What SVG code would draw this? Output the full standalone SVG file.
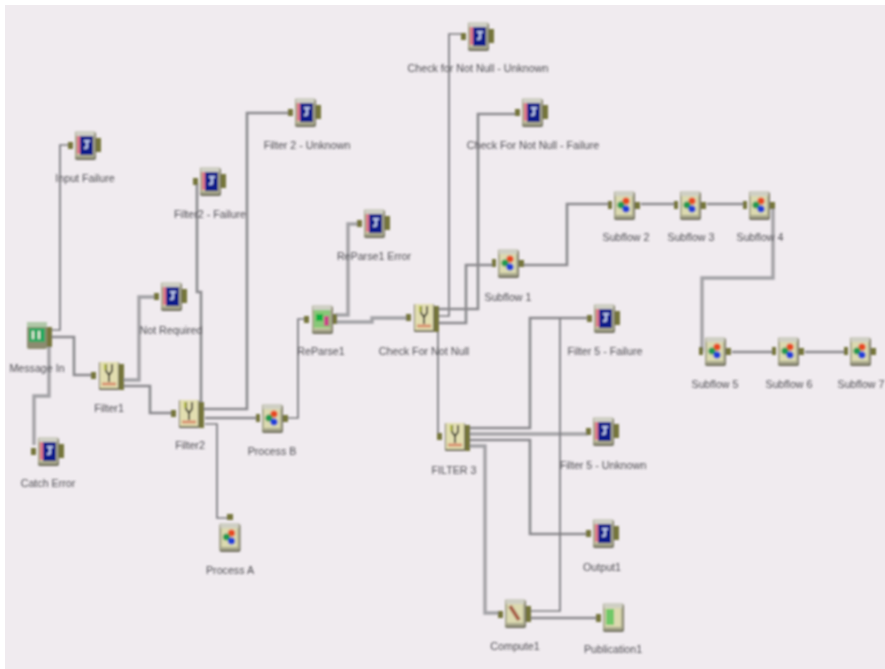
<svg xmlns="http://www.w3.org/2000/svg" width="885" height="669" viewBox="0 0 885 669">
<style>
.c{fill:none;stroke:#7a797d;stroke-width:1.7}
.w{fill:none;stroke:#8a898d;stroke-width:2.6}
.l{fill:none;stroke:#a3a2a6;stroke-width:3.4}
text{font-family:"Liberation Sans",Arial,sans-serif;font-size:10.7px;fill:#4e4d52;text-anchor:middle}
.p{fill:#74743a}
</style>
<defs>
<filter id="b" x="-5%" y="-5%" width="110%" height="110%"><feGaussianBlur stdDeviation="0.8"/></filter>
<g id="frame">
<rect x="-10" y="-13" width="21" height="28" rx="2" fill="#6f6e5c"/>
<rect x="-10" y="-14" width="20" height="27" rx="2" fill="#a8a78c"/>
<rect x="-9" y="-14" width="18" height="5" fill="#cfcfc4"/>
<rect x="-8" y="-9" width="16" height="19" fill="#dcdab0"/>
</g>
<g id="out">
<use href="#frame"/>
<rect x="-8" y="-9" width="3" height="18" fill="#e0788a"/>
<rect x="-5" y="-9" width="13" height="19" fill="#0c1f8a"/>
<path d="M-1-4h6M2-4v7M-1 3h3" stroke="#dfeaff" stroke-width="1.6" fill="none"/>
<rect x="11" y="-7" width="5" height="14" class="p"/>
<rect x="-17" y="-3" width="5" height="7" class="p"/>
</g>
<g id="sub">
<use href="#frame"/>
<circle cx="2" cy="-4" r="3.6" fill="#e84a20"/>
<circle cx="-3" cy="0" r="3.6" fill="#209a50"/>
<circle cx="2" cy="4" r="3.6" fill="#2040d8"/>
<rect x="11" y="-3" width="5" height="7" class="p"/>
<rect x="-16" y="-4" width="4" height="8" class="p"/>
</g>
<g id="flt">
<rect x="-10" y="-13" width="20" height="28" rx="1" fill="#6f6e5c"/>
<rect x="-9" y="-13" width="18" height="26" fill="#e2deb0"/>
<path d="M-3-11v7l3 4 3-4v-7M0 0v7" stroke="#3e3e30" stroke-width="2" fill="none"/>
<path d="M-4-11v6" stroke="#b8c030" stroke-width="2"/>
<path d="M-7 9h14" stroke="#d89070" stroke-width="3"/>
<rect x="10" y="-11" width="5" height="26" class="p"/>
<rect x="-18" y="-3" width="5" height="7" class="p"/>
</g>
</defs>
<rect width="885" height="669" fill="#ffffff"/>
<rect x="5" y="5" width="880" height="664" fill="#f0ebef"/>
<g filter="url(#b)">
<g id="connectors">
<path class="c" d="M50 330H60V145H70"/>
<path class="w" d="M50 337H74V375H93"/>
<path class="l" d="M49 340V396H34V445"/>
<path class="l" d="M122 380H139V297H157"/>
<path class="w" d="M122 386H150V413H176"/>
<path class="w" d="M201 405V292H197V183"/>
<path class="w" d="M204 409H247V113H290"/>
<path class="w" d="M205 418H256"/>
<path class="c" d="M205 424H217V518H228"/>
<path class="c" d="M282 418H298V319H307"/>
<path class="l" d="M335 315H348V224H360"/>
<path class="l" d="M335 322H372V318H410"/>
<path class="c" d="M438 316H449V34H463"/>
<path class="w" d="M438 309H478V114H516"/>
<path class="w" d="M438 323H466V265H495"/>
<path class="c" d="M438 330V437H441"/>
<path class="w" d="M521 265H567V204H610"/>
<path class="w" d="M641 204H676"/>
<path class="w" d="M707 204H745"/>
<path class="l" d="M773 205V278H702V352"/>
<path class="w" d="M732 352H774"/>
<path class="w" d="M805 352H846"/>
<path class="w" d="M470 428H530V318H590"/>
<path class="l" d="M470 434H588"/>
<path class="w" d="M470 440H530V534H589"/>
<path class="l" d="M470 446H485V613H501"/>
<path class="c" d="M530 611H560V318"/>
<path class="w" d="M530 618H598"/>
</g>
<g id="input-failure"><use href="#out" x="85" y="145"/><text x="85" y="182">Input Failure</text></g>
<g id="filter2-unknown"><use href="#out" x="305" y="112"/><text x="307" y="149">Filter 2 - Unknown</text></g>
<g id="filter2-failure"><use href="#out" x="210" y="181"/><text x="210" y="218">Filter2 - Failure</text></g>
<g id="not-required"><use href="#out" x="171" y="296"/><text x="171" y="334">Not Required</text></g>
<g id="message-in"><rect x="27" y="322" width="20" height="27" rx="2" fill="#8c8b70"/><rect x="27" y="322" width="20" height="5" fill="#b0c8a8"/><rect x="29" y="328" width="16" height="14" fill="#28a860"/><path d="M33 331v8M39 331v8" stroke="#e8f0e0" stroke-width="2"/><rect x="47" y="327" width="5" height="20" class="p"/><text x="37" y="372">Message In</text></g>
<g id="filter1"><use href="#flt" x="109" y="375"/><text x="109" y="412">Filter1</text></g>
<g id="filter2"><use href="#flt" x="189" y="413"/><text x="190" y="449">Filter2</text></g>
<g id="process-b"><use href="#sub" x="272" y="418"/><text x="272" y="455">Process B</text></g>
<g id="process-a"><g transform="translate(229.500 537)"><use href="#frame"/><circle cx="2" cy="-4" r="3.6" fill="#e84a20"/><circle cx="-3" cy="0" r="3.6" fill="#209a50"/><circle cx="2" cy="4" r="3.6" fill="#2040d8"/></g><rect x="227" y="514" width="6" height="6" class="p"/><text x="230" y="574">Process A</text></g>
<g id="catch-error"><use href="#out" x="48" y="451"/><text x="48" y="487">Catch Error</text></g>
<g id="reparse1"><use href="#frame" x="322" y="319"/><rect x="314" y="310" width="16" height="18" fill="#88c878"/><rect x="316" y="314" width="7" height="7" fill="#10b040"/><rect x="324" y="316" width="5" height="10" fill="#c84888"/><rect x="333" y="314" width="4" height="10" class="p"/><rect x="304" y="316" width="5" height="7" class="p"/><text x="321" y="355">ReParse1</text></g>
<g id="reparse1-error"><use href="#out" x="374" y="223"/><text x="374" y="260">ReParse1 Error</text></g>
<g id="check-not-null"><use href="#flt" x="424" y="317"/><text x="424" y="355">Check For Not Null</text></g>
<g id="check-unknown"><use href="#out" x="478" y="36"/><text x="478" y="72">Check for Not Null - Unknown</text></g>
<g id="check-failure"><use href="#out" x="532" y="112"/><text x="533" y="149">Check For Not Null - Failure</text></g>
<g id="subflow1"><use href="#sub" x="508" y="263"/><text x="508" y="301">Subflow 1</text></g>
<g id="subflow2"><use href="#sub" x="624" y="205"/><text x="626" y="241">Subflow 2</text></g>
<g id="subflow3"><use href="#sub" x="690" y="205"/><text x="691" y="241">Subflow 3</text></g>
<g id="subflow4"><use href="#sub" x="759" y="205"/><text x="760" y="241">Subflow 4</text></g>
<g id="subflow5"><use href="#sub" x="715" y="351"/><text x="715" y="388">Subflow 5</text></g>
<g id="subflow6"><use href="#sub" x="788" y="351"/><text x="789" y="388">Subflow 6</text></g>
<g id="subflow7"><use href="#sub" x="860" y="351"/><text x="861" y="388">Subflow 7</text></g>
<g id="filter5-failure"><use href="#out" x="604" y="318"/><text x="605" y="355">Filter 5 - Failure</text></g>
<g id="filter5-unknown"><use href="#out" x="603" y="431"/><text x="603" y="469">Filter 5 - Unknown</text></g>
<g id="filter3"><use href="#flt" x="455" y="436"/><text x="454" y="474">FILTER 3</text></g>
<g id="output1"><use href="#out" x="603" y="533"/><text x="602" y="571">Output1</text></g>
<g id="compute1"><use href="#frame" x="515" y="613"/><path d="M510 606l9 14" stroke="#a8604a" stroke-width="4"/><rect x="526" y="606" width="5" height="16" class="p"/><rect x="498" y="611" width="5" height="7" class="p"/><text x="515" y="650">Compute1</text></g>
<g id="publication1"><use href="#frame" x="613" y="617"/><rect x="606" y="609" width="8" height="16" fill="#70c868"/><rect x="596" y="614" width="5" height="8" class="p"/><text x="613" y="653">Publication1</text></g>
</g>
</svg>
